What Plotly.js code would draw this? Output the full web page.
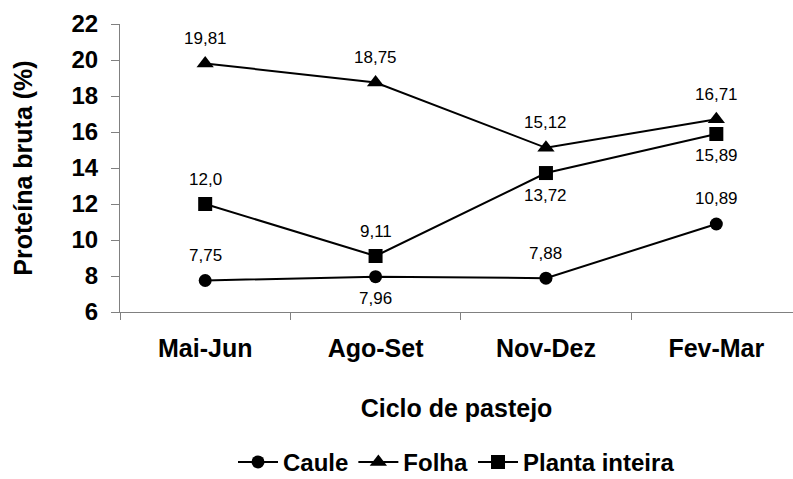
<!DOCTYPE html>
<html>
<head>
<meta charset="utf-8">
<script src="https://cdn.plot.ly/plotly-3.0.1.min.js"></script>
<style>html,body{margin:0;padding:0;background:#fff;}#chart{width:793px;height:479px;}</style>
</head>
<body>
<div id="chart"></div>
<script>
const categories = ["Mai-Jun", "Ago-Set", "Nov-Dez", "Fev-Mar"];

const caule = [7.75, 7.96, 7.88, 10.89];
const folha = [19.81, 18.75, 15.12, 16.71];
const planta = [12.0, 9.11, 13.72, 15.89];

const cauleLabels = ["7,75", "7,96", "7,88", "10,89"];
const folhaLabels = ["19,81", "18,75", "15,12", "16,71"];
const plantaLabels = ["12,0", "9,11", "13,72", "15,89"];

const caulePos = ["above", "below", "above", "above"];
const folhaPos = ["above", "above", "above", "above"];
const plantaPos = ["above", "above", "below", "below"];

const yTicks = [6, 8, 10, 12, 14, 16, 18, 20, 22];

const FONT = "Liberation Sans, Arial, sans-serif";

function trace(name, values, symbol, size) {
  return {
    x: categories, y: values, name: name, type: "scatter", mode: "lines+markers",
    line: {color: "#000", width: 2},
    marker: {color: "#000", symbol: symbol, size: size},
    cliponaxis: false
  };
}

const data = [
  trace("Caule", caule, "circle", 13),
  trace("Folha", folha, "triangle-up", 15),
  trace("Planta inteira", planta, "square", 14)
];

const annotations = [];
[[caule, cauleLabels, caulePos], [folha, folhaLabels, folhaPos], [planta, plantaLabels, plantaPos]].forEach(([vals, labs, pos]) => {
  vals.forEach((v, i) => {
    annotations.push({
      x: categories[i], y: v, xref: "x", yref: "y", text: labs[i], showarrow: false,
      yshift: pos[i] === "above" ? 25 : -22,
      font: {family: FONT, size: 17, color: "#000"}
    });
  });
});

const layout = {
  width: 793, height: 479,
  margin: {l: 120, r: 0, t: 24, b: 167, autoexpand: false},
  paper_bgcolor: "#fff", plot_bgcolor: "#fff",
  font: {family: FONT, color: "#000"},
  showlegend: true,
  legend: {
    orientation: "h", x: 0.5, xanchor: "center", y: -0.522, yanchor: "middle",
    font: {family: FONT, size: 24, weight: "bold", color: "#000"},
    itemwidth: 40, tracegroupgap: 0
  },
  xaxis: {
    type: "category", range: [-0.5, 3.45], automargin: false,
    showline: true, linecolor: "#808080", linewidth: 1,
    ticks: "outside", tickson: "boundaries", ticklen: 7, tickcolor: "#808080",
    showgrid: false, zeroline: false,
    ticklabelstandoff: 14,
    tickfont: {family: FONT, size: 25, weight: "bold", color: "#000"},
    title: {text: "Ciclo de pastejo", standoff: 38, font: {family: FONT, size: 25, weight: "bold", color: "#000"}}
  },
  yaxis: {
    range: [6, 22], tickvals: yTicks, ticktext: yTicks.map(String), automargin: false,
    showline: true, linecolor: "#808080", linewidth: 1,
    ticks: "outside", ticklen: 8, tickcolor: "#808080",
    showgrid: false, zeroline: false,
    ticklabelstandoff: 8,
    tickfont: {family: FONT, size: 24, weight: "bold", color: "#000"},
    title: {text: "Proteína bruta (%)", standoff: 31, font: {family: FONT, size: 25, weight: "bold", color: "#000"}}
  },
  annotations: annotations
};

Plotly.newPlot("chart", data, layout, {staticPlot: true, displayModeBar: false});
</script>
</body>
</html>
